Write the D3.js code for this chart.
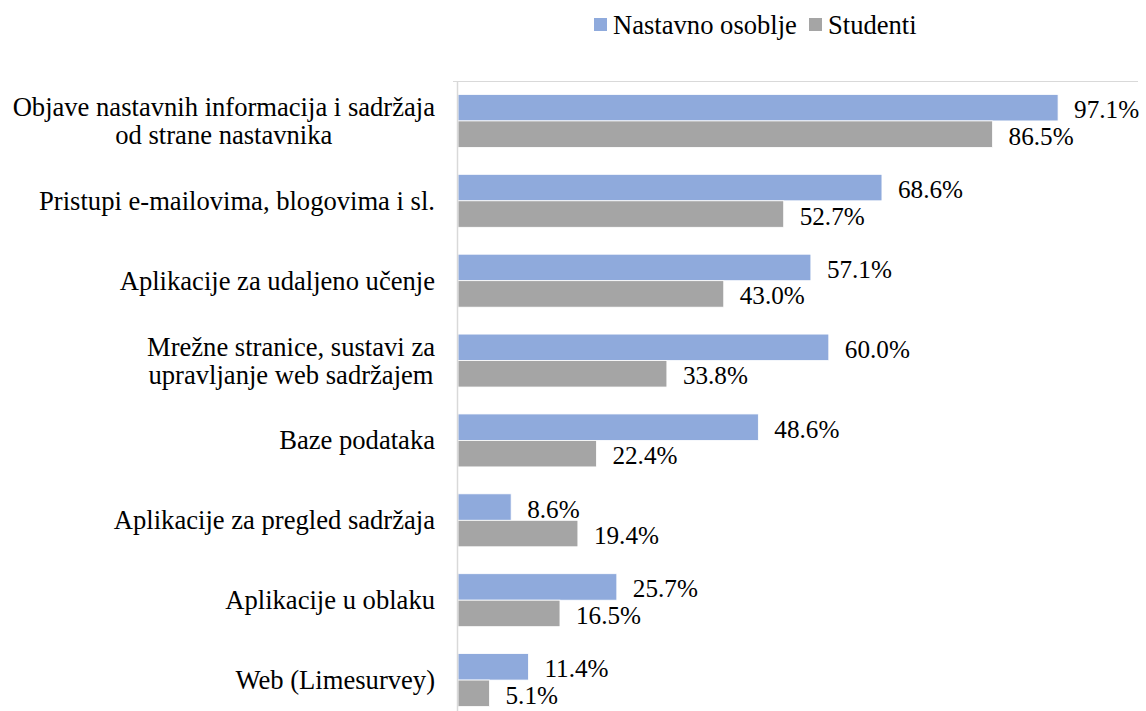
<!DOCTYPE html>
<html>
<head>
<meta charset="utf-8">
<script src="https://cdn.jsdelivr.net/npm/d3@7"></script>
<style>
  body { margin: 0; background: #fff; }
</style>
</head>
<body>
<div id="container"></div>
<script>
let svgWidth = 1146;
let svgHeight = 711;
let fontFam = "Liberation Serif";
let labelSize = 26.6;
let valueSize = 25.2;

// data
let categories = [
  ["Objave nastavnih informacija i sadržaja", "od strane nastavnika"],
  ["Pristupi e-mailovima, blogovima i sl."],
  ["Aplikacije za udaljeno učenje"],
  ["Mrežne stranice, sustavi za", "upravljanje web sadržajem"],
  ["Baze podataka"],
  ["Aplikacije za pregled sadržaja"],
  ["Aplikacije u oblaku"],
  ["Web (Limesurvey)"]
];
let seriesNames = ["Nastavno osoblje", "Studenti"];
let nastavnoOsoblje = [97.1, 68.6, 57.1, 60.0, 48.6, 8.6, 25.7, 11.4];
let studenti = [86.5, 52.7, 43.0, 33.8, 22.4, 19.4, 16.5, 5.1];
let colors = ["#8FAADC", "#A5A5A5"];

let rows = categories.map((c, i) => ({
  key: c.join(" "),
  lines: c,
  values: [nastavnoOsoblje[i], studenti[i]]
}));

let viz = d3.select("#container")
  .append("svg")
    .attr("width", svgWidth)
    .attr("height", svgHeight);

let x = d3.scaleLinear().domain([0, 100]).range([458, 1076]);
let y = d3.scaleBand().domain(rows.map(d => d.key)).range([81, 720])
  .paddingInner(0.337).paddingOuter(0.1685);
let ySub = d3.scaleBand().domain(seriesNames).range([0, y.bandwidth()]);

// frame line at top
viz.append("line")
  .attr("x1", 453).attr("x2", 1138).attr("y1", 81.5).attr("y2", 81.5)
  .attr("stroke", "#d9d9d9").attr("stroke-width", 1);

let groups = viz.selectAll("g.cat").data(rows).enter().append("g")
  .attr("class", "cat")
  .attr("transform", d => `translate(0,${y(d.key)})`);

groups.selectAll("rect").data(d => d.values.map((v, j) => ({v: v, s: seriesNames[j], j: j})))
  .enter().append("rect")
    .attr("x", x(0))
    .attr("y", d => ySub(d.s))
    .attr("width", d => x(d.v) - x(0))
    .attr("height", ySub.bandwidth())
    .attr("fill", d => colors[d.j])
    .attr("stroke", "#fff")
    .attr("stroke-width", 0.8);

groups.selectAll("text.val").data(d => d.values.map((v, j) => ({v: v, s: seriesNames[j]})))
  .enter().append("text")
    .attr("class", "val")
    .attr("x", d => x(d.v) + 16)
    .attr("y", d => ySub(d.s) + ySub.bandwidth() / 2 + 2)
    .attr("dominant-baseline", "central")
    .attr("font-family", fontFam)
    .attr("font-size", valueSize)
    .text(d => d.v.toFixed(1) + "%");

// category labels, lines centred inside a right-aligned block
let labelRight = 435;
let lineH = 28;
groups.each(function(d) {
  let g = d3.select(this);
  let cy = y.bandwidth() / 2;
  let t = g.append("text")
    .attr("font-family", fontFam)
    .attr("font-size", labelSize)
    .attr("text-anchor", "middle");
  let spans = t.selectAll("tspan").data(d.lines).enter().append("tspan")
    .attr("y", (l, i) => cy + (i - (d.lines.length - 1) / 2) * lineH)
    .attr("dominant-baseline", "central")
    .text(l => l);
  let w = d3.max(spans.nodes(), n => n.getComputedTextLength());
  spans.attr("x", labelRight - w / 2);
});

// vertical axis line
viz.append("line")
  .attr("x1", x(0) - 0.5).attr("x2", x(0) - 0.5).attr("y1", 81).attr("y2", svgHeight)
  .attr("stroke", "#d9d9d9").attr("stroke-width", 1.5);

// legend
let legendX = [594, 809];
let legend = viz.selectAll("g.legend").data(seriesNames).enter().append("g")
  .attr("class", "legend")
  .attr("transform", (d, i) => `translate(${legendX[i]},18)`);
legend.append("rect")
  .attr("width", 13).attr("height", 13)
  .attr("fill", (d, i) => colors[i]);
legend.append("text")
  .attr("x", 19).attr("y", 7)
  .attr("dominant-baseline", "central")
  .attr("font-family", fontFam)
  .attr("font-size", labelSize)
  .text(d => d);
</script>
</body>
</html>
